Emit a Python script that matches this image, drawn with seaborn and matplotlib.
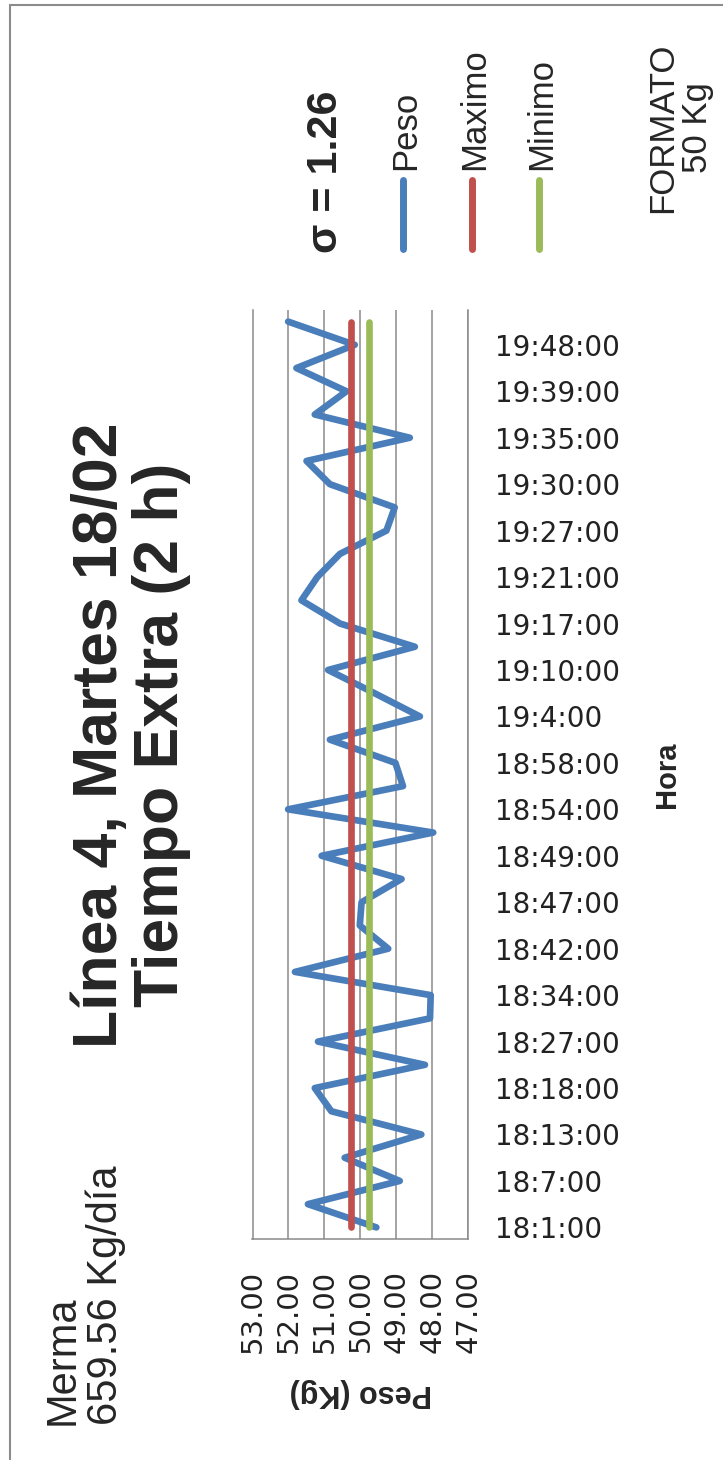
import numpy as np
import pandas as pd
import matplotlib
matplotlib.use("Agg")
import matplotlib.pyplot as plt
from matplotlib.lines import Line2D
import seaborn as sns

# Peso de cada saco, en orden cronológico (40 muestras)
peso = [49.56, 51.46, 48.91, 50.44, 48.31, 50.81, 51.27, 48.21, 51.18, 48.07,
        48.05, 51.82, 49.23, 50.02, 49.97, 48.86, 51.08, 47.98, 52.01, 48.82,
        49.03, 50.85, 48.35, 49.61, 50.90, 48.49, 50.57, 51.64, 51.20, 50.57,
        49.28, 49.05, 50.85, 51.50, 48.63, 51.27, 50.39, 51.78, 50.16, 52.01]
maximo = 50.25
minimo = 49.75

# Horas rotuladas (una de cada dos muestras)
hora_labels = ["18:1:00", "18:7:00", "18:13:00", "18:18:00", "18:27:00",
               "18:34:00", "18:42:00", "18:47:00", "18:49:00", "18:54:00",
               "18:58:00", "19:4:00", "19:10:00", "19:17:00", "19:21:00",
               "19:27:00", "19:30:00", "19:35:00", "19:39:00", "19:48:00"]
peso_ticks = [53, 52, 51, 50, 49, 48, 47]

series = ["Peso", "Maximo", "Minimo"]
colores = {"Peso": "#4A7EBB", "Maximo": "#C0504D", "Minimo": "#9BBB59"}

sns.set_theme(style="white")
plt.rcParams["font.family"] = ["Liberation Sans", "DejaVu Sans"]

W, H = 723, 1460
fig = plt.figure(figsize=(W / 100, H / 100), dpi=100)
fig.patch.set_facecolor("white")


def fx(px):
    return px / W


def fy(py):
    return 1 - py / H


# Área de trazado (el eje de peso va en horizontal, el tiempo sube)
ax_l, ax_r, ax_t, ax_b = 252.5, 468.5, 310, 1239
ax = fig.add_axes([fx(ax_l), fy(ax_b), (ax_r - ax_l) / W, (ax_b - ax_t) / H])

n = len(peso)
df = pd.DataFrame({"muestra": np.arange(n), "Peso": peso,
                   "Maximo": np.full(n, maximo), "Minimo": np.full(n, minimo)})
largo = df.melt(id_vars="muestra", value_vars=series,
                var_name="serie", value_name="kg")

sns.lineplot(data=largo, x="kg", y="muestra", hue="serie", hue_order=series,
             palette=colores, sort=False, estimator=None, orient="y",
             linewidth=4.8, legend=False, ax=ax)
for ln in ax.lines:
    ln.set_solid_capstyle("round")
    ln.set_solid_joinstyle("round")
    ln.set_zorder(3)

ax.set_xlim(53, 47)
ax.set_ylim(-0.5, n - 0.5)

grid_col = "#8a8a8a"
ax.set_xticks(peso_ticks)
ax.set_xticklabels([f"{v:.2f}" for v in peso_ticks], rotation=90,
                   fontsize=21, family="DejaVu Sans", color="#222222")
ax.grid(axis="x", color=grid_col, lw=1.1)
ax.grid(axis="y", visible=False)
ax.spines["top"].set_visible(False)
for s in ["left", "right", "bottom"]:
    ax.spines[s].set_color(grid_col)
    ax.spines[s].set_linewidth(1.1)

ax.yaxis.tick_right()
ax.set_yticks(np.arange(0, n, 2))
ax.set_yticklabels(hora_labels, fontsize=20, family="DejaVu Sans",
                   color="#222222")
ax.tick_params(axis="y", length=0, pad=19)
ax.tick_params(axis="x", length=0, pad=22)

ax.set_xlabel("Peso (Kg)", fontsize=22, fontweight="bold", rotation=180)
ax.xaxis.set_label_coords(0.5, (ax_b - 1378) / (ax_b - ax_t))
ax.set_ylabel("Hora", fontsize=21, fontweight="bold", rotation=90)
ax.yaxis.set_label_position("right")
ax.yaxis.set_label_coords((653 - ax_l) / (ax_r - ax_l), 0.5)

# Título
fig.text(fx(131), fy(735), "Línea 4, Martes 18/02\nTiempo Extra (2 h)",
         rotation=90, ha="center", va="center", fontsize=45,
         fontweight="bold", linespacing=1.05, multialignment="center")

# Desviación estándar
fig.text(fx(326), fy(253), "σ = 1.26", rotation=90, ha="center",
         va="bottom", fontsize=31, fontweight="bold")

# Leyenda
for nombre, xc in zip(series, [403, 472, 539]):
    fig.add_artist(Line2D([fx(xc), fx(xc)], [fy(180), fy(249)],
                          color=colores[nombre], lw=5,
                          solid_capstyle="round"))
    fig.text(fx(xc + 3), fy(170), nombre, rotation=90, ha="center",
             va="bottom", fontsize=25)

# Formato
fig.text(fx(680), fy(128), "FORMATO\n50 Kg", rotation=90, ha="center",
         va="center", fontsize=25, multialignment="center", linespacing=1.1)

# Merma
fig.text(fx(84), fy(1425), "Merma\n659.56 Kg/día", rotation=90,
         ha="center", va="bottom", fontsize=30, multialignment="left",
         linespacing=1.1)

# Marco
marco = "#8c8c8c"
fig.add_artist(Line2D([fx(10), fx(10)], [0, fy(5)], color=marco, lw=1.5))
fig.add_artist(Line2D([fx(10), 1], [fy(5), fy(5)], color=marco, lw=1.5))

fig.savefig("out.png", dpi=100, facecolor="white")
